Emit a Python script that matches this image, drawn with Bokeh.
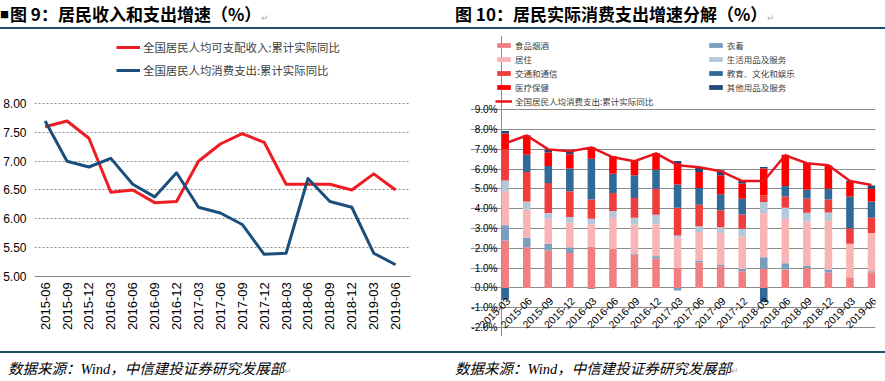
import numpy as np
from bokeh.plotting import figure
from bokeh.layouts import row, column
from bokeh.models import (Range1d, FixedTicker, PrintfTickFormatter, Legend, LegendItem, Div, Grid)
from bokeh.embed import file_html
from bokeh.resources import INLINE
from bokeh.core.properties import value

# ---------------- Figure 9 data ----------------
periods9 = ["2015-06", "2015-09", "2015-12", "2016-03", "2016-06", "2016-09", "2016-12",
            "2017-03", "2017-06", "2017-09", "2017-12", "2018-03", "2018-06", "2018-09",
            "2018-12", "2019-03", "2019-06"]
income = [7.6, 7.7, 7.4, 6.46, 6.5, 6.28, 6.3, 7.0, 7.3, 7.48, 7.33, 6.6, 6.6, 6.6, 6.5, 6.78, 6.5]
consumption = [7.7, 7.0, 6.9, 7.05, 6.6, 6.38, 6.8, 6.2, 6.1, 5.9, 5.38, 5.4, 6.7, 6.3, 6.2, 5.4, 5.2]
yticks9 = [5.0, 5.5, 6.0, 6.5, 7.0, 7.5, 8.0]

# ---------------- Figure 10 data ----------------
periods10 = ["2015-03", "2015-06", "2015-09", "2015-12", "2016-03", "2016-06", "2016-09",
             "2016-12", "2017-03", "2017-06", "2017-09", "2017-12", "2018-03", "2018-06",
             "2018-09", "2018-12", "2019-03", "2019-06"]
food =      [2.40, 2.06, 1.89, 1.76, 2.09, 1.97, 1.69, 1.47, 1.01, 1.30, 1.10, 0.84, 0.96, 0.93, 1.00, 0.78, 0.54, 0.79]
clothing =  [0.76, 0.47, 0.34, 0.30, -0.05, 0.00, 0.05, 0.13, -0.13, 0.08, 0.06, 0.12, 0.59, 0.32, 0.11, 0.15, 0.00, 0.05]
housing =   [1.73, 1.42, 1.26, 1.23, 1.12, 1.56, 1.47, 1.61, 1.52, 1.44, 1.61, 1.64, 2.23, 2.24, 2.25, 2.46, 1.69, 1.94]
household = [0.54, 0.42, 0.29, 0.29, 0.28, 0.35, 0.33, 0.49, 0.12, 0.29, 0.30, 0.39, 0.56, 0.56, 0.44, 0.42, 0.00, 0.00]
transport = [1.57, 1.49, 1.52, 1.31, 0.98, 0.91, 1.00, 1.31, 1.40, 1.09, 0.85, 0.72, 0.34, 0.57, 0.72, 0.66, 0.79, 0.76]
education = [-0.60, 0.87, 0.86, 1.14, 2.06, 0.98, 1.15, 0.96, 1.17, 0.85, 0.81, 0.80, -0.73, 0.53, 0.44, 0.54, 1.60, 0.83]
health =    [0.80, 0.98, 0.68, 0.72, 0.59, 0.90, 0.72, 0.85, 1.09, 0.81, 0.96, 0.76, 1.35, 1.58, 1.35, 1.18, 0.73, 0.64]
other =     [0.13, 0.00, 0.15, 0.15, 0.00, 0.00, 0.00, 0.00, 0.10, 0.20, 0.25, 0.13, 0.08, 0.00, 0.00, 0.00, 0.05, 0.17]
total10 =   [7.3, 7.7, 7.0, 6.9, 7.1, 6.6, 6.4, 6.8, 6.2, 6.1, 5.9, 5.4, 5.4, 6.7, 6.3, 6.2, 5.4, 5.2]
yticks10 = list(range(-2, 10))

CJK = "Noto Sans CJK SC"
RULE = "#1E4D6B"
GRID = "#8c8c8c"

# ---------------- Figure 9 ----------------
x9 = np.arange(len(periods9))
plot9_x = (-0.213, 16.136)          # extent of the plotting area (grid lines)
p1 = figure(width=440, height=321, x_range=Range1d(-0.485, 16.68), y_range=Range1d(3.951, 9.188),
            output_backend="svg", toolbar_location=None, margin=0, x_axis_location=None,
            min_border_left=31, min_border_right=30, min_border_top=5, min_border_bottom=15)
p1.outline_line_color = None
p1.xgrid.visible = False
p1.ygrid.ticker = FixedTicker(ticks=yticks9[1:])
p1.ygrid.grid_line_color = GRID
p1.ygrid.grid_line_dash = "2 2"
p1.ygrid.bounds = plot9_x
p1.add_layout(Grid(dimension=1, ticker=FixedTicker(ticks=yticks9[:1]), bounds=plot9_x,
                   grid_line_color="#868686", grid_line_width=1), "center")
p1.yaxis.ticker = FixedTicker(ticks=yticks9)
p1.yaxis.formatter = PrintfTickFormatter(format="%.2f")
p1.yaxis.axis_line_color = None
p1.yaxis.major_tick_line_color = None
p1.yaxis.minor_tick_line_color = None
p1.yaxis.major_label_standoff = 2
p1.yaxis.major_label_text_font = "Liberation Sans"
p1.yaxis.major_label_text_font_size = "12px"
p1.yaxis.major_label_text_color = "#000000"

r_inc = p1.line(x9, income, line_color="#EE1D23", line_width=3, line_join="round")
r_con = p1.line(x9, consumption, line_color="#1B4F7B", line_width=3, line_join="round")
p1.text(x=x9, y=np.full(len(x9), yticks9[0]), text=periods9, angle=np.pi / 2,
        text_align="right", text_baseline="middle", y_offset=6,
        text_font=value("Liberation Sans"), text_font_size="13px", text_color="#000000")
leg1 = Legend(items=[LegendItem(label="全国居民人均可支配收入:累计实际同比", renderers=[r_inc]),
                     LegendItem(label="全国居民人均消费支出:累计实际同比", renderers=[r_con])],
              location=(82, 256), glyph_width=24, glyph_height=20, label_height=20,
              spacing=3, label_standoff=3, padding=0, margin=0,
              border_line_color=None, background_fill_alpha=0,
              label_text_font=CJK, label_text_font_size="11.4px", label_text_color="#404040")
p1.add_layout(leg1, "center")

# ---------------- Figure 10 ----------------
x10 = np.arange(len(periods10))
plot10_x = (-0.172, 17.186)         # extent of the plotting area (axis line, grid lines)
plot10_y = (-2, 9)
p2 = figure(width=445, height=321, x_range=Range1d(-1.61, 17.186), y_range=Range1d(-2.455, 12.754),
            output_backend="svg", toolbar_location=None, x_axis_location=None,
            y_axis_location=None, margin=0,
            min_border_left=30, min_border_right=10, min_border_top=5, min_border_bottom=15)
p2.outline_line_color = None
p2.xgrid.visible = False
p2.ygrid.ticker = FixedTicker(ticks=yticks10)
p2.ygrid.grid_line_color = GRID
p2.ygrid.bounds = plot10_x
p2.add_layout(Grid(dimension=0, ticker=FixedTicker(ticks=[plot10_x[0]]), bounds=plot10_y,
                   grid_line_color=GRID, grid_line_width=1), "center")
p2.text(x=np.full(len(yticks10), plot10_x[0]), y=yticks10,
        text=["%.1f%%" % t for t in yticks10], text_align="right", text_baseline="middle",
        x_offset=-4, text_font=value("Liberation Sans"), text_font_size="10px",
        text_color="#000000")

series = [("食品烟酒", food, "#EF7F80"),
          ("衣着", clothing, "#7B9EBF"),
          ("居住", housing, "#F9B4B5"),
          ("生活用品及服务", household, "#B4C8DA"),
          ("交通和通信", transport, "#F03C3C"),
          ("教育、文化和娱乐", education, "#2F6A98"),
          ("医疗保健", health, "#FF0000"),
          ("其他用品及服务", other, "#1C4A74")]

pos = np.zeros(len(x10))
neg = np.zeros(len(x10))
bar_items = {}
for name, vals, color in series:
    v = np.array(vals, dtype=float)
    bottom = np.where(v >= 0, pos, neg)
    top = bottom + v
    pos = np.where(v >= 0, top, pos)
    neg = np.where(v < 0, top, neg)
    r = p2.vbar(x=x10, bottom=bottom, top=top, width=0.35, fill_color=color, line_color=None)
    bar_items[name] = r

r_tot = p2.line(x10, total10, line_color="#E8141C", line_width=2.5, line_join="round")

p2.text(x=x10, y=np.zeros(len(x10)), text=periods10, angle=np.pi / 4,
        text_align="right", text_baseline="middle", x_offset=3, y_offset=11,
        text_font=value("Liberation Sans"), text_font_size="10.5px", text_color="#000000")

leg_kw = dict(glyph_width=17, glyph_height=6, label_height=12, spacing=2, label_standoff=3,
              padding=0, margin=0, border_line_color=None, background_fill_alpha=0,
              label_text_font=CJK, label_text_font_size="8.5px", label_text_color="#404040")
left_names = ["食品烟酒", "居住", "交通和通信", "医疗保健"]
right_names = ["衣着", "生活用品及服务", "教育、文化和娱乐", "其他用品及服务"]
leg2a = Legend(items=[LegendItem(label=n, renderers=[bar_items[n]]) for n in left_names],
               location=(25, 242.6), **leg_kw)
leg2b = Legend(items=[LegendItem(label=n, renderers=[bar_items[n]]) for n in right_names],
               location=(236.7, 242.6), **leg_kw)
leg2c = Legend(items=[LegendItem(label="全国居民人均消费支出:累计实际同比", renderers=[r_tot])],
               location=(25, 228.7), **leg_kw)
p2.add_layout(leg2a, "center")
p2.add_layout(leg2b, "center")
p2.add_layout(leg2c, "center")

# ---------------- Header / footer ----------------
mark = '<span style="font-size:9px;color:#b0b0b0;font-weight:normal;font-style:normal;">↵</span>'
header_html = (
    '<div style="width:885px;height:27px;line-height:27px;white-space:nowrap;overflow:hidden;'
    'font-family:\'Noto Sans CJK SC\';font-weight:bold;font-size:17px;color:#000;">'
    '<span style="display:inline-block;width:455px;">'
    '<span style="font-size:9px;vertical-align:3px;margin-right:1px;">■</span>'
    '图 9：居民收入和支出增速（%）' + mark + '</span>'
    '<span>图 10：居民实际消费支出增速分解（%）' + mark + '</span></div>')
header = Div(text=header_html, width=885, height=27, margin=0)
rule_html = '<div style="width:885px;height:2px;background-color:' + RULE + ';"></div>'
# the rule followed by an empty text line, laid out exactly like the footer below
top_rule = Div(text=rule_html + '<div style="height:28px;line-height:30px;font-size:14px;">&nbsp;</div>',
               width=885, height=3, margin=0, styles={"overflow": "hidden"})

foot_one = ('数据来源：<span style="font-family:\'Liberation Serif\';">Wind</span>，'
            '中信建投证券研究发展部' + mark)
footer_html = (
    rule_html +
    '<div style="width:885px;height:28px;line-height:30px;white-space:nowrap;overflow:hidden;'
    'font-family:\'Noto Sans CJK SC\';font-style:italic;font-size:14.5px;color:#000;">'
    '<span style="display:inline-block;width:455px;padding-left:8px;box-sizing:border-box;">'
    + foot_one + '</span><span>' + foot_one + '</span></div>')
footer = Div(text=footer_html, width=885, height=30, margin=0)

layout = column(header, top_rule, row(p1, p2, spacing=0), footer, spacing=0)

open("out.html", "w").write(file_html(layout, INLINE))
